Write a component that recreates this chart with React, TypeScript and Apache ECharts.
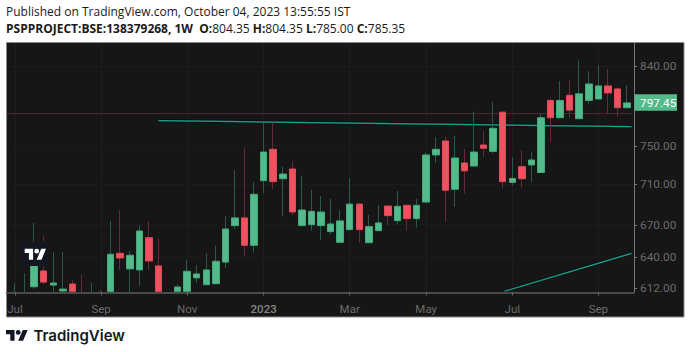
import React, { useEffect, useRef } from "react";
import * as echarts from "echarts";

const weeks = ["2022-07-04","2022-07-11","2022-07-18","2022-07-25","2022-08-01","2022-08-08","2022-08-15","2022-08-22","2022-08-29","2022-09-05","2022-09-12","2022-09-19","2022-09-26","2022-10-03","2022-10-10","2022-10-17","2022-10-24","2022-10-31","2022-11-07","2022-11-14","2022-11-21","2022-11-28","2022-12-05","2022-12-12","2022-12-19","2022-12-26","2023-01-02","2023-01-09","2023-01-16","2023-01-23","2023-01-30","2023-02-06","2023-02-13","2023-02-20","2023-02-27","2023-03-06","2023-03-13","2023-03-20","2023-03-27","2023-04-03","2023-04-10","2023-04-17","2023-04-24","2023-05-01","2023-05-08","2023-05-15","2023-05-22","2023-05-29","2023-06-05","2023-06-12","2023-06-19","2023-06-26","2023-07-03","2023-07-10","2023-07-17","2023-07-24","2023-07-31","2023-08-07","2023-08-14","2023-08-21","2023-08-28","2023-09-04","2023-09-11","2023-09-18","2023-09-25"];
const opens = [600,598,613.5,627.5,615,609.8,615.9,600,598,607,609.5,643.5,629.3,628.4,658,632,606,609.5,609.5,621.3,615.3,616.2,635.5,669.4,676.8,650.9,713.7,746.4,715.7,725.7,669.4,670.3,669.4,663.7,653.7,665.6,690.3,653.3,664.6,688.4,674.2,689.1,676.1,692.3,740.4,755.3,705,732,728.8,751,744.2,787,712,728.1,729.9,722.1,800.3,780.8,806.2,779.7,800.3,801.9,817,813.5,792];
const closes = [605,606,648.4,617.6,616.8,611.5,609.5,605,606,600,642.6,639.2,641.7,664.3,636.5,609.5,598,613.3,627.2,624.8,628.4,636.2,666.2,676.8,650.9,700,743.5,712.7,720.5,682.6,684.5,683.2,682.5,671,673.9,690.3,665.6,668.4,672,679,688.1,676.1,689.1,740.4,746.4,704,737.2,723.8,743.5,747.5,769.1,712.7,716,715.7,735.1,780.8,780.8,800.3,789.3,807.9,819.3,817,808.9,792,797.45];
const lows = [598,595,611.8,616.2,600,604,604,598,595,597,605,628.4,605,614.1,628.4,605,596,606,606,617,615,615.5,630.2,666.2,641.1,644.1,701,705,678,679.4,669.1,664.6,655.8,660.8,653,665.2,653,653,664.3,670,670.3,664.6,667.5,691.8,732,673.2,687.4,701,728.3,738.3,741.7,705.6,709,706.6,712,721.5,754.1,780.1,780.1,779.3,795.6,801.3,785.5,782,791.7];
const highs = [616.5,625.4,672.2,659.6,644.7,644.7,619.5,624.2,617,610.4,673.8,684.5,645.6,669.7,673.8,657,607,615.6,637.4,632.9,643.5,650.3,678.7,724.6,748.1,712.7,775.3,775.3,728.1,734.1,718.8,704.3,698.3,695.3,684.5,716.2,690.8,679.7,689.4,688.8,703.3,689.6,695.3,743.2,759.7,759.7,760.8,746.7,787.8,766.2,798.5,787.5,738.3,745.6,743.5,785.5,802.3,822.8,824,847,834.6,841.4,836.7,815.5,817.9];

const tickWeeks = ["2022-07-04","2022-09-05","2022-11-07","2023-01-02","2023-03-06","2023-05-01","2023-07-03","2023-09-04"];
const tickNames = ["Jul","Sep","Nov","2023","Mar","May","Jul","Sep"];
const priceTicks = [612, 640, 670, 710, 750, 840];
const gridPriceTicks = [640, 670, 710, 750, 840];
const lastPrice = 797.45;
const closeLinePrice = 785.35;
const trendUpperWeeks = [15, 64.47];
const trendUpperPrices = [777.5, 770.9];
const trendLowerWeeks = [51.2, 64.47];
const trendLowerPrices = [609.6, 643.4];

const X_MIN = -0.8366;
const X_MAX = 64.73;
const Y_MIN = 608.5;
const Y_MAX = 868.6;

const GREEN = "#53bb8b";
const RED = "#f0505f";
const GREEN_WICK = "#28594a";
const RED_WICK = "#66293a";
const TV_PATH = "M14 22H7V11H0V4h14v18zM28 22h-8l7.48-18h8.04L28 22zM20 4a4 4 0 1 0 0 8 4 4 0 0 0 0-8z";
echarts.graphic.registerShape("tvlogo", echarts.graphic.extendPath(TV_PATH, {}) as any);

export default function App() {
  const ref = useRef<HTMLDivElement>(null);
  useEffect(() => {
    const chart = echarts.init(ref.current!, undefined, { renderer: "svg" });
    const tickIdx = tickWeeks.map((w) => weeks.indexOf(w));
    // The plot window ends at Y_MIN; candlesticks are not path-clipped, so the wick layer stops there.
    const atWindow = (v: number) => Math.max(v, Y_MIN);
    const wickData = weeks.map((_, i) => [i, atWindow(opens[i]), atWindow(closes[i]), atWindow(lows[i]), atWindow(highs[i])]);
    const bodyData = weeks.map((_, i) => [i, opens[i], closes[i], Math.min(opens[i], closes[i]), Math.max(opens[i], closes[i])]);
    const teal = { color: "#14a08a", width: 1.2, shadowColor: "#000", shadowBlur: 2 };
    chart.setOption({
      animation: false,
      backgroundColor: "#fff",
      grid: { left: 7, top: 43, width: 627, height: 249.5 },
      xAxis: {
        type: "value", min: X_MIN, max: X_MAX,
        axisLine: { onZero: false, lineStyle: { color: "#4a4a4a", width: 2 } },
        axisTick: { customValues: tickIdx, length: 3, lineStyle: { color: "#666" } },
        axisLabel: {
          customValues: tickIdx, margin: 10, fontFamily: "Roboto", fontSize: 11.5, color: "#6c6c6c",
          formatter: (v: number) => { const n = tickNames[tickIdx.indexOf(v)]; return n === "2023" ? "{y|2023}" : n; },
          rich: { y: { fontFamily: "Roboto", fontSize: 11.5, fontWeight: 500, color: "#868686" } },
          showMinLabel: true, showMaxLabel: true,
        },
        splitLine: { show: true, lineStyle: { color: "#1d1d1d", width: 1 } },
      },
      yAxis: {
        type: "log", position: "right", min: Y_MIN, max: Y_MAX,
        axisLine: { show: true, onZero: false, lineStyle: { color: "#777", width: 1 } },
        axisTick: { show: true, customValues: priceTicks, length: 3, lineStyle: { color: "#777" } },
        axisLabel: {
          customValues: priceTicks, margin: 6, fontFamily: "Roboto", fontSize: 11.8, color: "#6c6c6c",
          formatter: (v: number) => Number(v).toFixed(2),
        },
        splitLine: { show: false },
        minorSplitLine: { show: false },
      },
      series: [
        { type: "line", z: 1, symbol: "none", silent: true, data: [[X_MIN, closeLinePrice], [trendUpperWeeks[1], closeLinePrice]], lineStyle: { color: "#52292e", width: 1 } },
        { type: "line", z: 1, symbol: "none", silent: true, data: trendUpperWeeks.map((x, i) => [x, trendUpperPrices[i]]), lineStyle: teal },
        { type: "line", z: 1, symbol: "none", silent: true, data: trendLowerWeeks.map((x, i) => [x, trendLowerPrices[i]]), lineStyle: teal },
        ...gridPriceTicks.map((p) => ({ type: "line", z: 0, symbol: "none", silent: true, data: [[X_MIN, p], [X_MAX, p]], lineStyle: { color: "#1d1d1d", width: 1 } })),
        {
          type: "candlestick", z: 2, barWidth: 1, data: wickData, encode: { x: 0, y: [1, 2, 3, 4] },
          itemStyle: { color: GREEN_WICK, color0: RED_WICK, borderColor: GREEN_WICK, borderColor0: RED_WICK, borderWidth: 1 },
        },
        {
          type: "candlestick", z: 3, barWidth: 7, data: bodyData, encode: { x: 0, y: [1, 2, 3, 4] },
          itemStyle: { color: GREEN, color0: RED, borderColor: "#45a87b", borderColor0: "#dd4a58", borderWidth: 1 },
        },
      ],
      graphic: [
        { type: "rect", z: -10, silent: true, shape: { x: 6.5, y: 42.5, width: 677.5, height: 274.5 }, style: { fill: "#161616", stroke: "#8a8a8a", lineWidth: 1 } },
        { type: "rect", z: 5, silent: true, shape: { x: 635, y: 292.3, width: 48, height: 22 }, style: { fill: "#161616" } },
        { type: "rect", z: 6, silent: true, shape: { x: 22, y: 241.7, width: 25.7, height: 24.3 }, style: { fill: "#131722" } },
        { type: "tvlogo", z: 7, silent: true, x: 24.7, y: 246.3, scaleX: 0.6, scaleY: 0.61, style: { fill: "#fff" } },
        { type: "rect", z: 6, silent: true, shape: { x: 634.5, y: 94.3, width: 42.5, height: 16.4 }, style: { fill: GREEN } },
        { type: "text", z: 7, silent: true, x: 640, y: 102.7, style: { text: lastPrice.toFixed(2), fontFamily: "Roboto", fontSize: 11.8, fill: "#fff", verticalAlign: "middle" } },
        { type: "text", z: 7, x: 6, y: 5.5, style: { text: "Published on TradingView.com, October 04, 2023 13:55:55 IST", fontFamily: "Open Sans", fontSize: 12, fill: "#1a1a1a" } },
        {
          type: "text", z: 7, x: 6, y: 22,
          style: {
            text: "{b|PSPPROJECT:BSE:138379268, 1W  O:}{n|804.35 }{b|H:}{n|804.35 }{b|L:}{n|785.00 }{b|C:}{n|785.35}",
            rich: {
              b: { fontFamily: "Open Sans", fontSize: 12, fontWeight: 700, fill: "#1a1a1a" },
              n: { fontFamily: "Open Sans", fontSize: 12, fill: "#1a1a1a" },
            },
          },
        },
        { type: "tvlogo", z: 7, silent: true, x: 6, y: 327.6, scaleX: 0.61, scaleY: 0.6, style: { fill: "#131722" } },
        { type: "text", z: 7, x: 33.5, y: 335.5, style: { text: "TradingView", fontFamily: "Inter", fontSize: 15, fontWeight: 600, fill: "#131722", verticalAlign: "middle" } },
      ],
    });
    return () => chart.dispose();
  }, []);
  return <div ref={ref} style={{ position: "absolute", left: 0, top: 0, width: 690, height: 352 }} />;
}
